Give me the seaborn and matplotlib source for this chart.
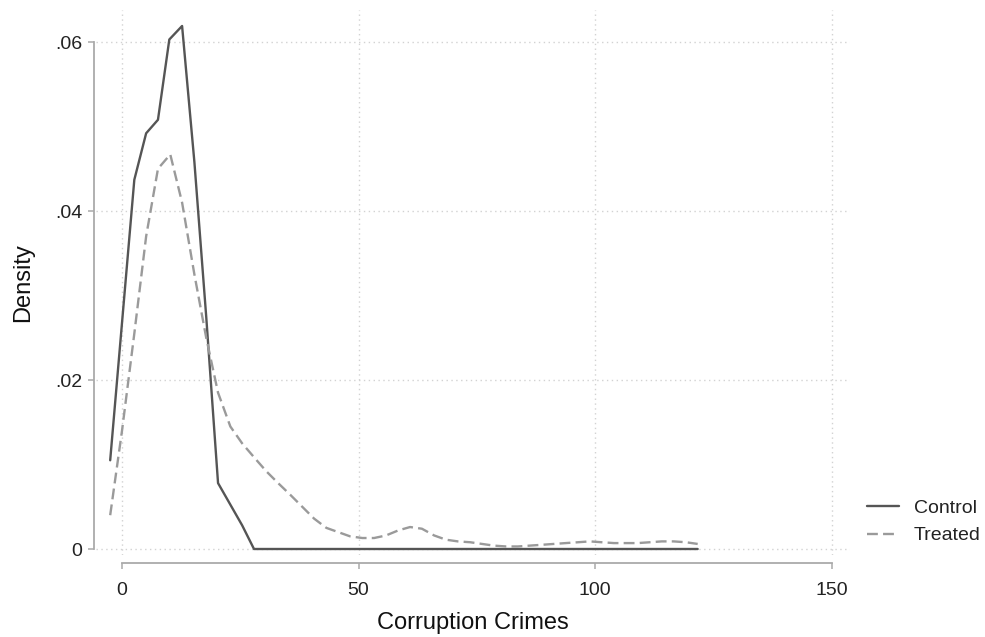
import matplotlib
matplotlib.use("Agg")
import matplotlib.pyplot as plt
import seaborn as sns
import pandas as pd

# Kernel density estimates of corruption crimes, by group
control_x = [-2.5, 2.6, 5.1, 7.6, 10.0, 12.7, 15.3, 17.8, 20.3, 25.4, 27.9, 121.7]
control_y = [0.0105, 0.0437, 0.0492, 0.0508, 0.0603, 0.0619, 0.0458, 0.0275,
             0.0078, 0.0028, 0.0, 0.0]

treated_x = [-2.5, 0.0, 2.6, 5.1, 7.6, 10.2, 12.7, 15.3, 17.8, 20.3, 22.9, 25.4,
             28.0, 30.5, 33.0, 35.6, 38.1, 40.6, 43.2, 45.7, 48.2, 50.8, 53.3,
             55.8, 58.4, 60.9, 63.4, 66.0, 68.5, 71.0, 73.6, 76.1, 78.6, 81.2,
             83.7, 86.2, 88.8, 91.3, 93.8, 96.4, 98.9, 101.4, 104.0, 106.5,
             109.0, 111.6, 114.1, 116.6, 119.2, 121.7]
treated_y = [0.0040, 0.0140, 0.0255, 0.0370, 0.0450, 0.0467, 0.0410, 0.0325,
             0.0250, 0.0185, 0.0145, 0.0125, 0.0108, 0.0092, 0.0078, 0.0064,
             0.0050, 0.0036, 0.0025, 0.0020, 0.0015, 0.0013, 0.0013, 0.0016,
             0.0022, 0.0026, 0.0024, 0.0016, 0.0011, 0.0009, 0.0008, 0.0006,
             0.0004, 0.0003, 0.0003, 0.0004, 0.0005, 0.0006, 0.0007, 0.0008,
             0.0009, 0.0008, 0.0007, 0.0007, 0.0007, 0.0008, 0.0009, 0.0009,
             0.0008, 0.0006]

groups = ["Control", "Treated"]
x_ticks = [0, 50, 100, 150]
x_tick_labels = ["0", "50", "100", "150"]
y_ticks = [0, 0.02, 0.04, 0.06]
y_tick_labels = ["0", ".02", ".04", ".06"]

df = pd.concat([
    pd.DataFrame({"x": control_x, "density": control_y, "group": groups[0]}),
    pd.DataFrame({"x": treated_x, "density": treated_y, "group": groups[1]}),
], ignore_index=True)

sns.set_theme(style="white")
plt.rcParams["font.family"] = ["Liberation Sans", "DejaVu Sans"]

LW = 1.7
DASH = (4.6, 2.2)
COLORS = {"Control": "#555555", "Treated": "#9a9a9a"}

W, H = 985, 637
fig = plt.figure(figsize=(W / 100, H / 100), dpi=100)
ax = fig.add_axes([96 / W, 1 - 555 / H, (850 - 96) / W, (555 - 10) / H])

sns.lineplot(
    data=df, x="x", y="density", hue="group", style="group",
    palette=COLORS, dashes={"Control": "", "Treated": DASH},
    linewidth=LW, ax=ax, legend=False, sort=False,
)

ax.set_xlim(-5.5, 153.9)
ax.set_ylim(-0.00071, 0.06379)

grid_kw = dict(color="#d2d2d2", linestyle=(0, (1, 2.5)), linewidth=1.0, zorder=0)
for xv in x_ticks:
    ax.axvline(xv, **grid_kw)
for yv in y_ticks:
    ax.axhline(yv, **grid_kw)

ax.set_xticks(x_ticks)
ax.set_xticklabels(x_tick_labels)
ax.set_yticks(y_ticks)
ax.set_yticklabels(y_tick_labels)

for side in ["top", "right"]:
    ax.spines[side].set_visible(False)
ax.spines["left"].set_position(("outward", 1.5))
ax.spines["bottom"].set_position(("outward", 6))
ax.spines["left"].set_bounds(0, 0.06)
ax.spines["bottom"].set_bounds(0, 150)
for side in ["left", "bottom"]:
    ax.spines[side].set_color("#aaaaaa")
    ax.spines[side].set_linewidth(1.3)

ax.tick_params(axis="both", which="major", length=4.5, width=1.1,
               color="#aaaaaa", labelsize=14, labelcolor="#222222",
               direction="out", left=True, bottom=True)
ax.tick_params(axis="x", pad=9)
ax.tick_params(axis="y", pad=4)

ax.set_xlabel("Corruption Crimes", fontsize=17, color="#111111", labelpad=9)
ax.set_ylabel("Density", fontsize=17, color="#111111", labelpad=15)

handles = [
    plt.Line2D([], [], color=COLORS["Control"], linewidth=LW),
    plt.Line2D([], [], color=COLORS["Treated"], linewidth=LW, dashes=DASH),
]
fig.legend(handles, groups, loc="center left",
           bbox_to_anchor=(867 / W, 1 - 522 / H), frameon=False,
           fontsize=14, handlelength=1.65, handletextpad=0.75,
           labelspacing=0.5, borderpad=0, borderaxespad=0,
           labelcolor="#222222")

fig.savefig("out.png", dpi=100)
